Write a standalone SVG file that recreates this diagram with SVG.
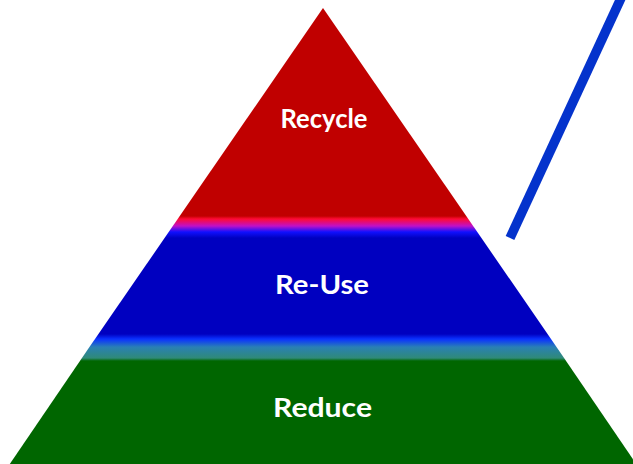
<svg xmlns="http://www.w3.org/2000/svg" width="633" height="464" viewBox="0 0 633 464">
  <style>
    .label { font-family: Lato, "Liberation Sans", Arial, sans-serif; font-weight: bold; fill: #ffffff; text-anchor: middle; }
    .pointer { stroke: #0433cc; stroke-width: 9.5; fill: none; stroke-linecap: butt; }
  </style>
  <defs>
    <!-- one shared vertical gradient so the tiers blend into each other -->
    <linearGradient id="tiers" gradientUnits="userSpaceOnUse" x1="0" y1="0" x2="0" y2="464">
      <stop offset="0.4655" stop-color="#c00000"/>
      <stop offset="0.472" stop-color="#ff0a34"/>
      <stop offset="0.487" stop-color="#c010c8"/>
      <stop offset="0.500" stop-color="#1010ff"/>
      <stop offset="0.513" stop-color="#0000c0"/>
      <stop offset="0.7198" stop-color="#0000c0"/>
      <stop offset="0.7306" stop-color="#0a30ff"/>
      <stop offset="0.748" stop-color="#2a80b4"/>
      <stop offset="0.7716" stop-color="#2f8a78"/>
      <stop offset="0.778" stop-color="#006600"/>
    </linearGradient>
  </defs>

  <rect width="633" height="464" fill="#ffffff"/>

  <g id="recycle">
    <polygon points="323,8 470.4,222 175.6,222" fill="url(#tiers)"/>
    <text class="label" x="324" y="128" font-size="26" textLength="87" lengthAdjust="spacingAndGlyphs">Recycle</text>
  </g>

  <g id="reuse">
    <polygon points="175.6,222 470.4,222 558.6,350 87.4,350" fill="url(#tiers)"/>
    <text class="label" x="322" y="294" font-size="27" textLength="94" lengthAdjust="spacingAndGlyphs">Re-Use</text>
  </g>

  <g id="reduce">
    <polygon points="87.4,350 558.6,350 636.2,464 9.8,464" fill="url(#tiers)"/>
    <text class="label" x="322.5" y="417" font-size="27" textLength="99" lengthAdjust="spacingAndGlyphs">Reduce</text>
  </g>

  <g id="connectors">
    <line class="pointer" x1="622" y1="-4" x2="510" y2="238"/>
  </g>
</svg>
